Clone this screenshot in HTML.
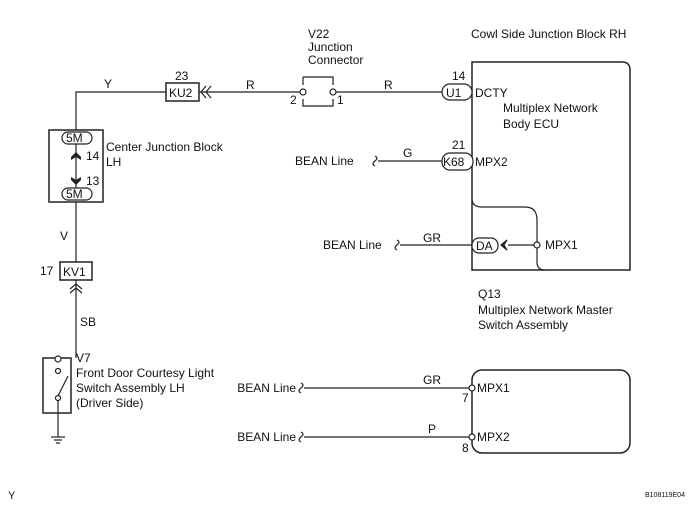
<!DOCTYPE html><html><head><style>body{margin:0;background:#fff}svg{display:block}text{font-family:"Liberation Sans",sans-serif;font-size:12px;fill:#111}</style></head><body>
<svg width="693" height="508" viewBox="0 0 693 508" xmlns="http://www.w3.org/2000/svg">
<g stroke="#222" stroke-width="1.2" fill="none">
<polyline points="76,130 76,92 166,92"/>
<line x1="199" y1="92" x2="303" y2="92"/>
<line x1="333" y1="92" x2="442" y2="92"/>
<rect x="166" y="83" width="33" height="18" stroke-width="1.5"/>
<path d="M206,86 l-5,6 l5,6 M211,86 l-5,6 l5,6"/>
<path d="M303,77 h30 v8 M333,99 v7 h-30 v-7 M303,85 v-8"/>
<circle cx="303" cy="92" r="3" fill="#fff"/><circle cx="333" cy="92" r="3" fill="#fff"/>
<rect x="49" y="130" width="54" height="72" stroke-width="1.5"/>
<rect x="62" y="132" width="30" height="12" rx="6" fill="#fff"/>
<rect x="62" y="188" width="30" height="12" rx="6" fill="#fff"/>
<line x1="76" y1="144" x2="76" y2="188"/>
<line x1="76" y1="202" x2="76" y2="262"/>
<rect x="60" y="262" width="32" height="18" stroke-width="1.5"/>
<line x1="76" y1="280" x2="76" y2="358"/>
<path d="M70,289 l6,-5 l6,5 M70,293 l6,-5 l6,5"/>
<rect x="43" y="358" width="28" height="55" stroke-width="1.5"/>
<circle cx="58" cy="359" r="3" fill="#fff"/>
<circle cx="58" cy="371" r="2.5" fill="#fff"/>
<circle cx="58" cy="398" r="2.5" fill="#fff"/>
<line x1="58" y1="396" x2="68" y2="376"/>
<line x1="58" y1="400" x2="58" y2="437"/>
<line x1="51" y1="437" x2="65" y2="437"/><line x1="54" y1="440" x2="62" y2="440"/><line x1="56" y1="443" x2="60" y2="443"/>
<path d="M472,62 H622 Q630,62 630,70 V270 H472 Z" stroke-width="1.5"/>
<path d="M472,200 Q473,207 482,207 H525 Q537,207 537,220 V262 Q537,270 545,270"/>
<rect x="442" y="84" width="30" height="16" rx="8" fill="#fff"/>
<rect x="442" y="153" width="31" height="17" rx="8" fill="#fff"/>
<line x1="378" y1="161" x2="442" y2="161"/>
<path d="M375,156 q4,2 0,5 q-4,3 0,5"/>
<rect x="472" y="238" width="26" height="15" rx="7" fill="#fff"/>
<line x1="400" y1="245" x2="472" y2="245"/>
<path d="M397,240 q4,2 0,5 q-4,3 0,5"/>
<line x1="508" y1="245" x2="535" y2="245"/>
<path d="M507,240 l-6,5 l6,5 l-3,-5 z" fill="#222"/>
<circle cx="537" cy="245" r="3" fill="#fff"/>
<rect x="472" y="370" width="158" height="83" rx="10" stroke-width="1.5"/>
<line x1="304" y1="388" x2="470" y2="388"/>
<path d="M301,383 q4,2 0,5 q-4,3 0,5"/>
<line x1="304" y1="437" x2="470" y2="437"/>
<path d="M301,432 q4,2 0,5 q-4,3 0,5"/>
<circle cx="472" cy="388" r="3" fill="#fff"/>
<circle cx="472" cy="437" r="3" fill="#fff"/>
</g>
<text x="104" y="88">Y</text>
<text x="175" y="80">23</text>
<text x="169" y="97">KU2</text>
<text x="246" y="89">R</text>
<text x="290" y="104">2</text>
<text x="337" y="104">1</text>
<text x="308" y="38">V22</text><text x="308" y="51">Junction</text><text x="308" y="64">Connector</text>
<text x="384" y="89">R</text>
<text x="452" y="80">14</text>
<text x="446" y="97">U1</text>
<text x="475" y="97">DCTY</text>
<text x="471" y="38">Cowl Side Junction Block RH</text>
<text x="503" y="112">Multiplex Network</text><text x="503" y="128">Body ECU</text>
<text x="452" y="149">21</text>
<text x="443" y="166">K68</text>
<text x="475" y="166">MPX2</text>
<text x="295" y="165">BEAN Line</text>
<text x="403" y="157">G</text>
<text x="323" y="249">BEAN Line</text>
<text x="423" y="242">GR</text>
<text x="476" y="250">DA</text>
<text x="545" y="249">MPX1</text>
<text x="478" y="298">Q13</text><text x="478" y="314">Multiplex Network Master</text><text x="478" y="329">Switch Assembly</text>
<text x="66" y="142">5M</text><text x="66" y="198">5M</text>
<text x="86" y="160">14</text><text x="86" y="185">13</text>
<path d="M71,157 l5,-5 l5,5 v3 l-5,-3 l-5,3 z M71,177 l5,3 l5,-3 v3 l-5,5 l-5,-5 z" fill="#222"/>
<text x="106" y="151">Center Junction Block</text><text x="106" y="166">LH</text>
<text x="60" y="240">V</text>
<text x="40" y="275">17</text>
<text x="63" y="276">KV1</text>
<text x="80" y="326">SB</text>
<text x="76" y="362">V7</text>
<text x="76" y="377">Front Door Courtesy Light</text>
<text x="76" y="392">Switch Assembly LH</text>
<text x="76" y="407">(Driver Side)</text>
<text x="296" y="392" text-anchor="end">BEAN Line</text>
<text x="423" y="384">GR</text>
<text x="477" y="392">MPX1</text>
<text x="462" y="402">7</text>
<text x="296" y="441" text-anchor="end">BEAN Line</text>
<text x="428" y="433">P</text>
<text x="477" y="441">MPX2</text>
<text x="462" y="452">8</text>
<text x="8" y="499" style="font-size:11px">Y</text>
<text x="645" y="497" style="font-size:7px">B108119E04</text>
</svg></body></html>
